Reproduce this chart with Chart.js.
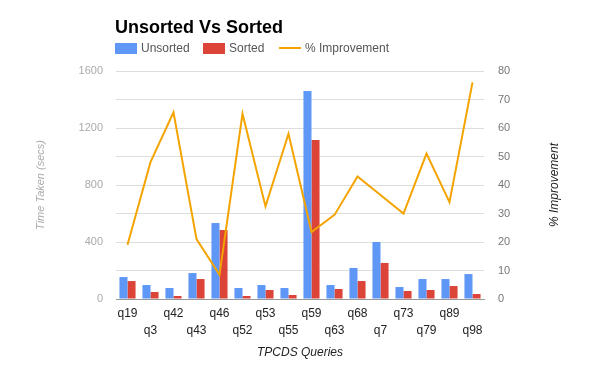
<!DOCTYPE html>
<html>
<head>
<meta charset="utf-8">
<script src="https://cdn.jsdelivr.net/npm/chart.js@4.4.1/dist/chart.umd.min.js"></script>
<style>
  html, body { margin: 0; padding: 0; background: #fff; }
  #wrap { width: 600px; height: 371px; }
</style>
</head>
<body>
<div id="wrap"><canvas id="grafico"></canvas></div>
<script>
/**********************************************
 *
 * Unsorted Vs Sorted - tiempos TPCDS
 *
 * ****************************************/

var queries = ['q19', 'q3', 'q42', 'q43', 'q46', 'q52', 'q53', 'q55',
               'q59', 'q63', 'q68', 'q7', 'q73', 'q79', 'q89', 'q98'];
var unsorted = [154, 98, 77, 182, 533, 77, 98, 77, 1460, 98, 218, 400, 84, 140, 140, 175];
var sorted = [126, 49, 21, 140, 484, 21, 63, 28, 1116, 70, 126, 253, 56, 63, 91, 35];
var improvement = [19, 48, 65.5, 21, 8.5, 65, 32.5, 58, 23.5, 29.5, 43, 36.5, 30, 51, 34, 76];

var AZUL = '#5e97f6', ROJO = '#db4437', NARANJA = '#f4a400';
var FUENTE = '"Liberation Sans", Arial, sans-serif';

// titulo, leyenda y titulo del eje derecho (girado como el izquierdo)
var cabecera = {
	id: 'cabecera',
	afterDraw: function (chart) {
		var c = chart.ctx;
		var area = chart.chartArea;
		var x0 = area.left - 1;
		c.save();
		c.fillStyle = '#000';
		c.font = 'bold 18px ' + FUENTE;
		c.textBaseline = 'alphabetic';
		c.fillText('Unsorted Vs Sorted', x0, 33);

		c.font = '12px ' + FUENTE;
		c.textBaseline = 'middle';
		var items = [
			{ texto: 'Unsorted', color: AZUL, tipo: 'box', x: x0 },
			{ texto: 'Sorted', color: ROJO, tipo: 'box', x: x0 + 88 },
			{ texto: '% Improvement', color: NARANJA, tipo: 'line', x: x0 + 164 }
		];
		items.forEach(function (it) {
			c.fillStyle = it.color;
			if (it.tipo === 'box') {
				c.fillRect(it.x, 43, 22, 11);
			} else {
				c.fillRect(it.x, 47, 22, 2);
			}
			c.fillStyle = '#555';
			c.fillText(it.texto, it.x + 26, 49);
		});

		// eje derecho: texto de abajo hacia arriba
		c.translate(555, (area.top + area.bottom) / 2);
		c.rotate(-Math.PI / 2);
		c.font = 'italic 12px ' + FUENTE;
		c.fillStyle = '#222';
		c.textAlign = 'center';
		c.textBaseline = 'middle';
		c.fillText('% Improvement', 0, 0);
		c.restore();
	}
};

var ctx = document.getElementById('grafico').getContext('2d');

var chart = new Chart(ctx, {
	data: {
		labels: queries,
		datasets: [{
			type: 'line',
			label: '% Improvement',
			data: improvement,
			yAxisID: 'y1',
			borderColor: NARANJA,
			backgroundColor: NARANJA,
			borderWidth: 2,
			pointRadius: 0,
			tension: 0,
			order: 0
		}, {
			type: 'bar',
			label: 'Unsorted',
			data: unsorted,
			yAxisID: 'y',
			backgroundColor: AZUL,
			barPercentage: 1,
			categoryPercentage: 0.7,
			order: 1
		}, {
			type: 'bar',
			label: 'Sorted',
			data: sorted,
			yAxisID: 'y',
			backgroundColor: ROJO,
			barPercentage: 1,
			categoryPercentage: 0.7,
			order: 1
		}]
	},
	options: {
		responsive: true,
		maintainAspectRatio: false,
		animation: false,
		layout: {
			padding: { top: 71, bottom: 0, left: 0, right: 0 }
		},
		plugins: {
			legend: { display: false },
			title: { display: false },
			tooltip: { enabled: false }
		},
		scales: {
			x: {
				grid: { display: false, drawTicks: false },
				border: { color: '#999' },
				ticks: {
					color: '#222',
					font: { family: FUENTE, size: 12, lineHeight: 1.4 },
					padding: 6,
					maxRotation: 0,
					autoSkip: false,
					callback: function (value, index) {
						var q = queries[index];
						return index % 2 ? ['', q] : q;
					}
				},
				title: {
					display: true,
					text: 'TPCDS Queries',
					color: '#222',
					font: { family: FUENTE, size: 12, style: 'italic' },
					padding: { top: 0, bottom: 11 }
				},
				afterFit: function (scale) { scale.height = 72; }
			},
			y: {
				position: 'left',
				min: 0,
				max: 1600,
				grid: {
					drawTicks: false,
					color: '#dddddd'
				},
				border: { display: false },
				ticks: {
					stepSize: 200,
					color: '#aaa',
					padding: 13,
					font: { family: FUENTE, size: 11 },
					callback: function (v) { return v % 400 === 0 ? v : ''; }
				},
				title: {
					display: true,
					text: 'Time Taken (secs)',
					color: '#aaa',
					font: { family: FUENTE, size: 11, style: 'italic' },
					padding: { top: 34, bottom: 0 }
				},
				afterFit: function (scale) { scale.width = 116; }
			},
			y1: {
				position: 'right',
				min: 0,
				max: 80,
				grid: { display: false, drawTicks: false },
				border: { display: false },
				ticks: {
					stepSize: 10,
					color: '#777',
					padding: 14,
					font: { family: FUENTE, size: 11 }
				},
				afterFit: function (scale) { scale.width = 116; }
			}
		}
	},
	plugins: [cabecera]
});

</script>
</body>
</html>
